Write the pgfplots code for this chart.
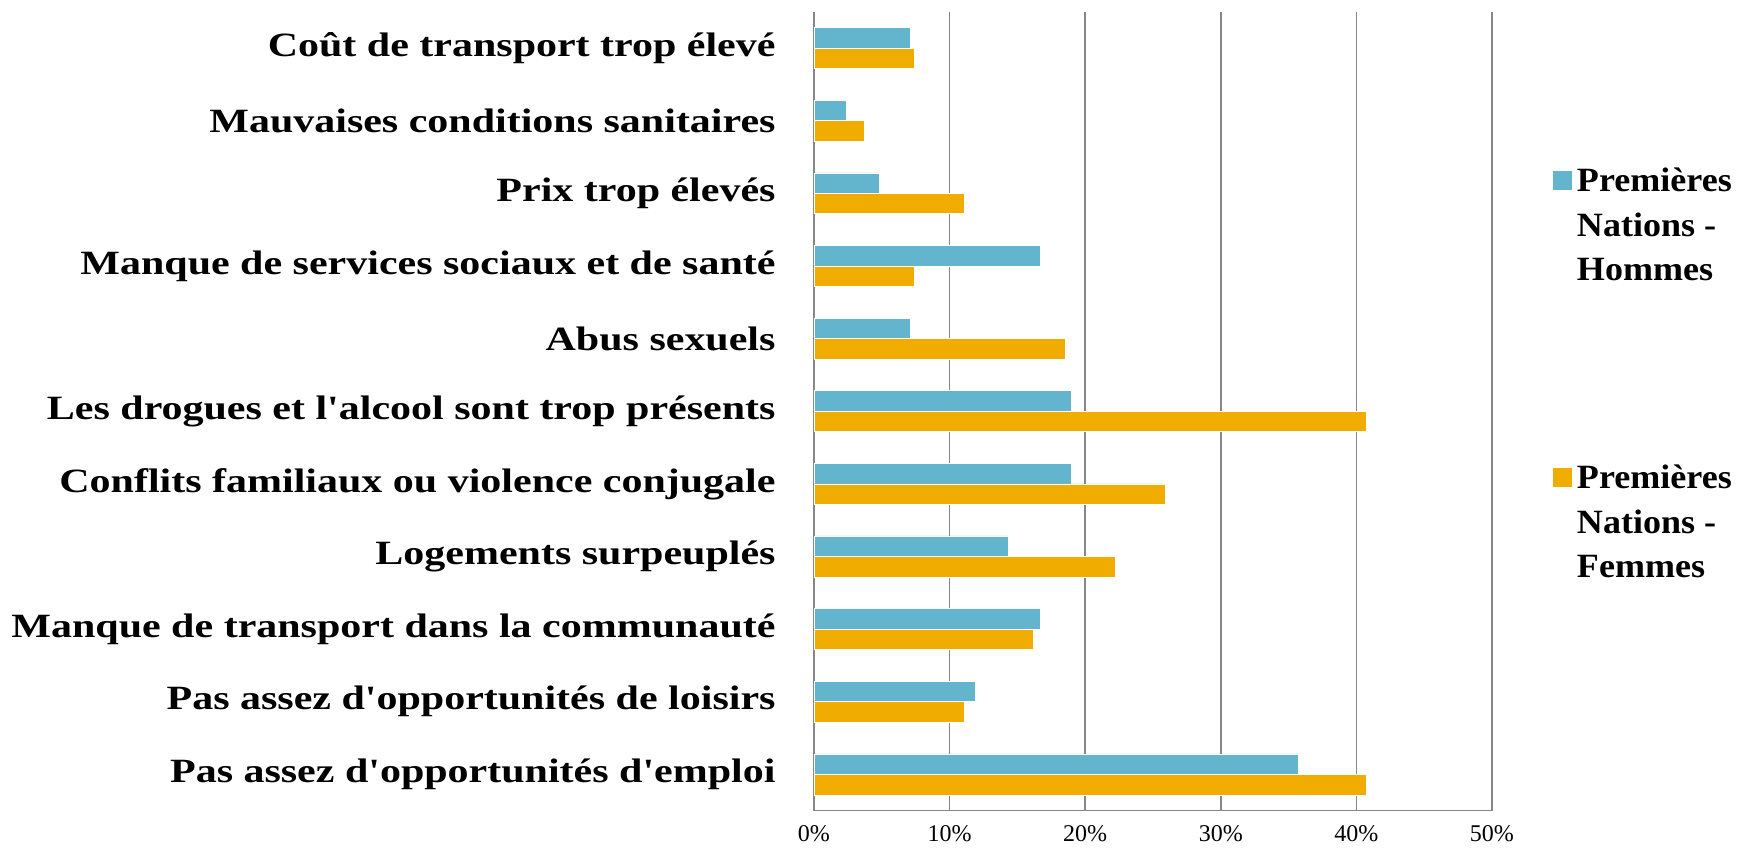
\documentclass[border=0pt]{standalone}
\usepackage{fontspec}
\setmainfont{Liberation Serif}
\newfontfamily\labfont[FakeStretch=1.235]{Liberation Serif}
\newfontfamily\legfont[FakeStretch=1.06]{Liberation Serif}
\usepackage{pgfplots}
\pgfplotsset{compat=1.18}
\definecolor{hom}{HTML}{63B5CE}
\definecolor{fem}{HTML}{F0AC00}
\definecolor{gridc}{HTML}{878787}
\begin{document}
\begin{tikzpicture}
\useasboundingbox (-407pt,-20.65pt) rectangle (464pt,405.35pt);
\begin{axis}[
 at={(0,0)}, anchor=south west,
 scale only axis, width=339pt, height=399.5pt,
 xbar, bar width=0.282,
 xmin=0, xmax=50, ymin=-0.5, ymax=10.5,
 xtick={0,10,20,30,40,50},
 xticklabel={\pgfmathprintnumber{\tick}\%},
 /pgf/number format/assume math mode=true,
 xmajorgrids, grid style={gridc, line width=0.75pt},
 axis lines*=left, axis line style={gridc, line width=0.75pt},
 major tick length=0pt,
 ytick={0,1,2,3,4,5,6,7,8,9,10},
 yticklabels={Pas assez d'opportunités d'emploi, Pas assez d'opportunités de loisirs, Manque de transport dans la communauté, Logements surpeuplés, Conflits familiaux ou violence conjugale, Les drogues et l'alcool sont trop présents, Abus sexuels, Manque de services sociaux et de santé, Prix trop élevés, Mauvaises conditions sanitaires, Coût de transport trop élevé},
 yticklabel style={font=\labfont\fontsize{17}{20}\selectfont\bfseries, xshift=-15.7pt},
 xticklabel style={font=\fontsize{12}{14}\selectfont, yshift=-4pt},
 legend style={at={(axis description cs:1.0885,0.81)}, anchor=north west, draw=none, fill=none, inner sep=0pt, row sep=86.7pt,
   font=\legfont\fontsize{17}{22.25}\selectfont\bfseries, cells={align=left, anchor=west}},
 legend image code/.code={\fill[#1] (0pt,17.8pt) rectangle (10pt,27.8pt);},
]
\addplot[fill=hom, draw=white, line width=0.3pt, bar shift=0.141] coordinates {
(35.7,0) (11.9,1) (16.7,2) (14.3,3) (19.0,4) (19.0,5) (7.1,6) (16.7,7) (4.8,8) (2.4,9) (7.1,10)};
\addplot[fill=fem, draw=white, line width=0.3pt, bar shift=-0.141] coordinates {
(40.7,0) (11.1,1) (16.2,2) (22.2,3) (25.9,4) (40.7,5) (18.5,6) (7.4,7) (11.1,8) (3.7,9) (7.4,10)};
\legend{Premières\\Nations -\\Hommes, Premières\\Nations -\\Femmes}
\end{axis}
\end{tikzpicture}
\end{document}
